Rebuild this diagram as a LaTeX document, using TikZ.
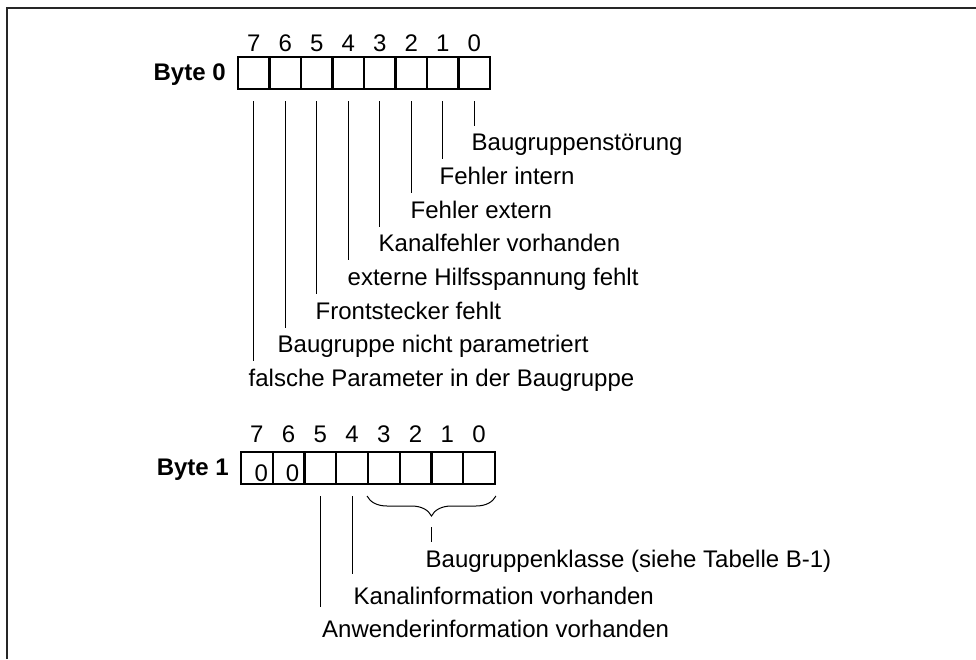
\documentclass[tikz,border=0pt]{standalone}
\usepackage{fontspec}
\setmainfont{Liberation Sans}
\usetikzlibrary{positioning, decorations.pathreplacing}

\begin{document}
\begin{tikzpicture}[
        x=1pt, y=-1pt,
        cell/.style={rectangle, draw=black, line width=2pt, minimum width=31.6pt, minimum height=32pt, inner sep=0pt},
        bitnum/.style={font=\fontsize{24}{28}\selectfont, anchor=base, inner sep=0pt},
        zero/.style={font=\fontsize{24}{28}\selectfont, anchor=base, inner sep=0pt},
        bytelabel/.style={font=\fontsize{24}{28}\selectfont\bfseries, anchor=base east, inner sep=0pt},
        desc/.style={font=\fontsize{24}{28}\selectfont, anchor=base west, inner xsep=0pt, inner ysep=8pt, text height=17pt, text depth=5pt},
        tick/.style={line width=1pt, shorten <=11pt},
        brace/.style={line width=1pt, decorate, decoration={brace, mirror, amplitude=20pt}},
        frame/.style={line width=2pt, black!85}
    ]
    \useasboundingbox (0,0) rectangle (976,659);

    % Frame
    \coordinate (fbottom) at (7,659);
    \coordinate (fcorner) at (7,8);
    \coordinate (ftop) at (976,8);
    \draw[frame] (fbottom) -- (fcorner) -- (ftop);

    % Byte 0
    \foreach \i in {0,...,7}
        \node[cell] (a\i) at ({474.2-31.5*\i}, 73) {};
    \foreach \i in {0,...,7}
        \node[bitnum] (na\i) at ([yshift=5pt]a\i.north) {\i};
    \node[bytelabel] (byte0) at ([xshift=-11pt, yshift=-7pt]a7.west) {Byte 0};

    \foreach \i/\lx/\txt in {0/471.5/Baugruppenstörung, 1/439.5/Fehler intern,
            2/410.5/Fehler extern, 3/378.5/Kanalfehler vorhanden,
            4/347.5/externe Hilfsspannung fehlt, 5/315.5/Frontstecker fehlt,
            6/277.5/Baugruppe nicht parametriert, 7/248.5/falsche Parameter in der Baugruppe}
    {
        \node[desc] (da\i) at (\lx, {150.7+33.7*\i}) {\txt};
        \draw[tick] (a\i.south) -- (a\i.south |- da\i.north);
    }

    % Byte 1
    \foreach \i in {0,...,7}
        \node[cell] (b\i) at ({479.1-31.75*\i}, 468) {};
    \foreach \i in {0,...,7}
        \node[bitnum] (nb\i) at ([yshift=9pt]b\i.north) {\i};
    \node[bytelabel] (byte1) at ([xshift=-11pt, yshift=-7pt]b7.west) {Byte 1};
    \node[zero] (z7) at ([xshift=4.5pt, yshift=4pt]b7.south) {0};
    \node[zero] (z6) at ([xshift=4pt, yshift=4pt]b6.south) {0};

    \node[desc] (db0) at (425.5, 567) {Baugruppenklasse (siehe Tabelle B-1)};
    \node[desc, inner ysep=13pt] (db4) at (353.5, 604) {Kanalinformation vorhanden};
    \node[desc, inner ysep=13pt] (db5) at (322, 637) {Anwenderinformation vorhanden};

    % Edges
    \draw[brace] ([yshift=-11pt]b3.south west) -- node[coordinate, pos=0.5, yshift=-20pt] (tip) {} ([yshift=-11pt]b0.south east);
    \draw[tick] (tip) -- (tip |- db0.north);
    \draw[tick] (b4.south) -- (b4.south |- db4.north);
    \draw[tick] (b5.south) -- (b5.south |- db5.north);

\end{tikzpicture}
\end{document}
